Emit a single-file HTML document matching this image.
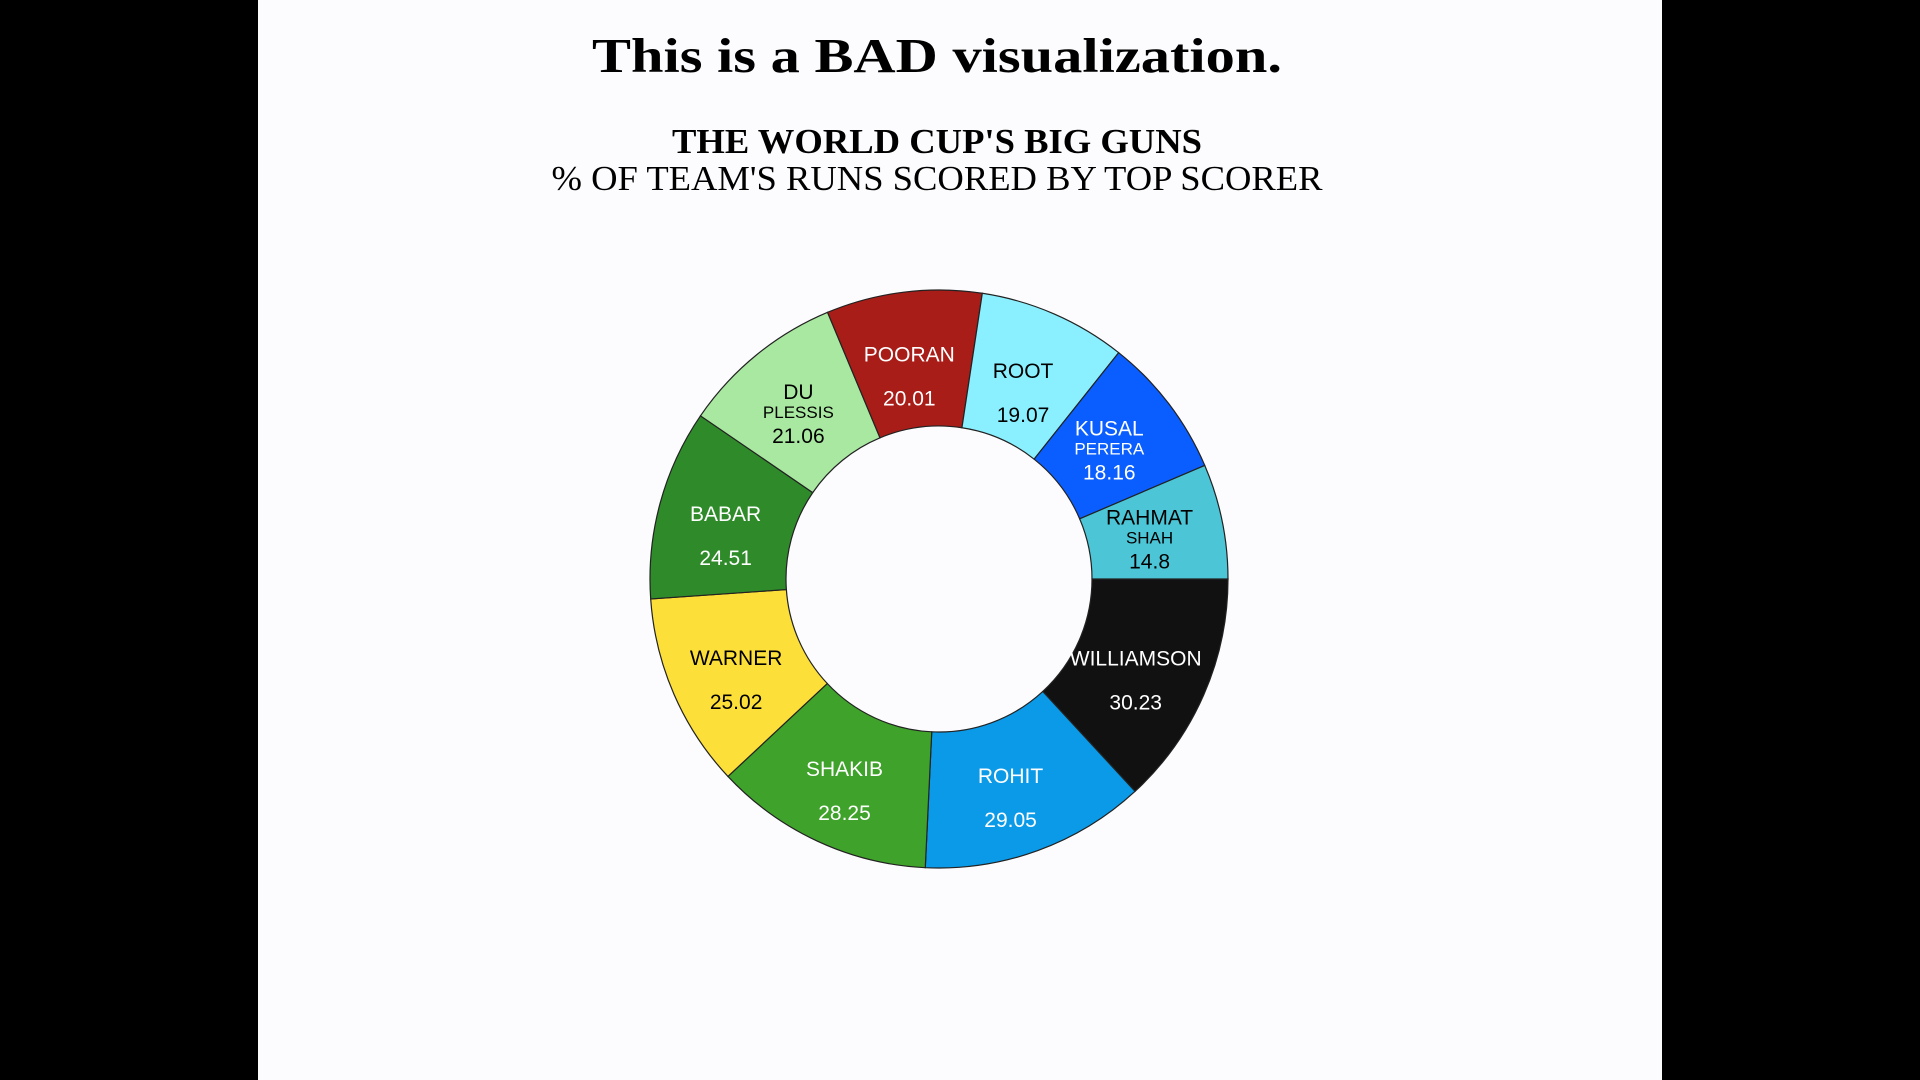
<!DOCTYPE html>
<html><head><meta charset="utf-8">
<style>
html,body{margin:0;padding:0;background:#000;}
#page{position:absolute;left:258px;top:0;width:1404px;height:1080px;background:#fcfcfe;}
svg{position:absolute;left:0;top:0;}
</style></head>
<body>
<div id="page"></div>
<svg id="chart" width="1920" height="1080">
<text x="937" y="72" text-anchor="middle" font-family="Liberation Serif, serif" font-weight="bold" font-size="49" fill="#000" textLength="690" lengthAdjust="spacingAndGlyphs">This is a BAD visualization.</text>
<text x="937" y="153" text-anchor="middle" font-family="Liberation Serif, serif" font-weight="bold" font-size="35" fill="#000" textLength="530" lengthAdjust="spacingAndGlyphs">THE WORLD CUP'S BIG GUNS</text>
<text x="937" y="190" text-anchor="middle" font-family="Liberation Serif, serif" font-size="35" fill="#000" textLength="771" lengthAdjust="spacingAndGlyphs">% OF TEAM'S RUNS SCORED BY TOP SCORER</text>
<g id="slices"></g>
<g id="labels"></g>
</svg>
<script>
const names = ["WILLIAMSON","ROHIT","SHAKIB","WARNER","BABAR","DU","POORAN","ROOT","KUSAL","RAHMAT"];
const subNames = ["","","","","","PLESSIS","","","PERERA","SHAH"];
const values = [30.23,29.05,28.25,25.02,24.51,21.06,20.01,19.07,18.16,14.8];
const colors = ["#111111","#0a9ae8","#3fa22a","#fddf3a","#2f8b2a","#a9e8a0","#a81d18","#8af0ff","#0a5eff","#4cc6d6"];
const textColors = ["#fff","#fff","#fff","#000","#fff","#000","#fff","#000","#fff","#000"];

const cx=939, cy=579, R=289, r0=153, rl=218;
const NS="http://www.w3.org/2000/svg";
const total = values.reduce((a,b)=>a+b,0);
function angleOf(v){return v/total*2*Math.PI;}
function pt(rad,a){return [cx+rad*Math.cos(a), cy+rad*Math.sin(a)];}
const gS=document.getElementById('slices'), gL=document.getElementById('labels');
let a0=0;
values.forEach((v,i)=>{
  const a1=a0+angleOf(v);
  const large=(a1-a0)>Math.PI?1:0;
  const p1=pt(R,a0),p2=pt(R,a1),p3=pt(r0,a1),p4=pt(r0,a0);
  const path=document.createElementNS(NS,'path');
  path.setAttribute('d',`M${p1[0]},${p1[1]} A${R},${R} 0 ${large} 1 ${p2[0]},${p2[1]} L${p3[0]},${p3[1]} A${r0},${r0} 0 ${large} 0 ${p4[0]},${p4[1]} Z`);
  path.setAttribute('fill',colors[i]);
  path.setAttribute('stroke','#222');
  path.setAttribute('stroke-width','1.2');
  
  
  gS.appendChild(path);
  const m=(a0+a1)/2;
  const [lx,ly]=pt(rl,m);
  const dy=13, dx=-3;
  const lines = subNames[i] ? [[names[i],21,-24],[subNames[i],17,-5],[v.toString(),21,20]] : [[names[i],21,-14],[v.toString(),21,30]];
  lines.forEach((ln,k)=>{
    const t=document.createElementNS(NS,'text');
    t.setAttribute('x',lx+dx);
    t.setAttribute('y',ly+ln[2]+dy);
    t.setAttribute('text-anchor','middle');
    t.setAttribute('font-family','Liberation Sans, sans-serif');
    t.setAttribute('font-size',ln[1]);
    t.setAttribute('fill',textColors[i]);
    t.textContent=ln[0];
    
    
    gL.appendChild(t);
  });
  a0=a1;
});
</script>
</body></html>
